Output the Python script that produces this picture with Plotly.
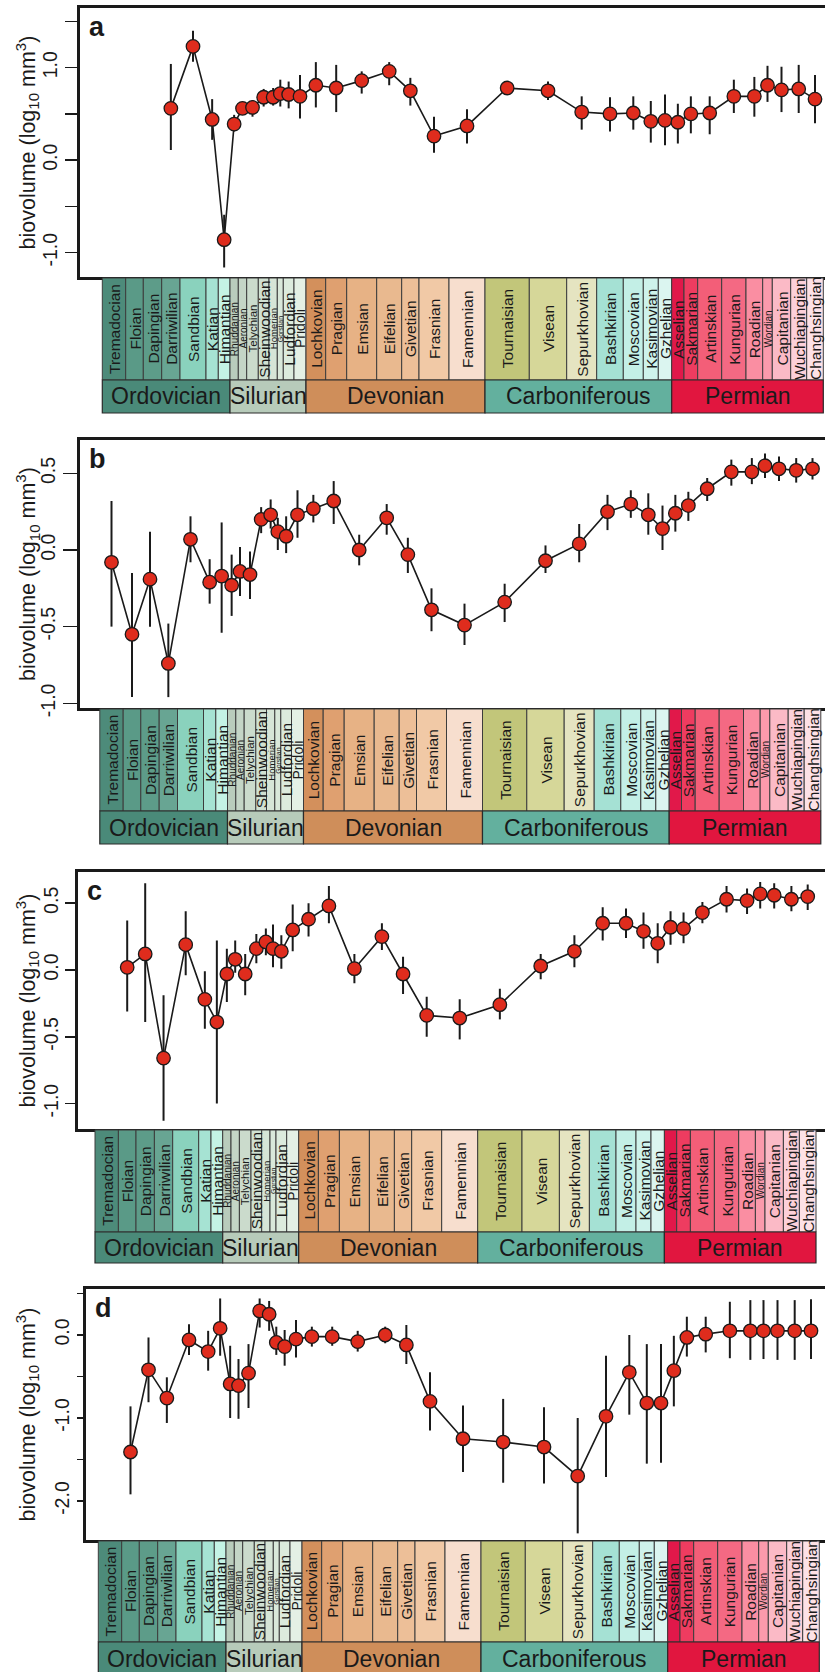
import numpy as np
import plotly.graph_objects as go

# ---------------- data ----------------
stages = ["Tremadocian", "Floian", "Dapingian", "Darriwilian", "Sandbian", "Katian", "Himantian",
          "Rhuddanian", "Aeronian", "Telychian", "Sheinwoodian", "Homerian", "Gorstian", "Ludfordian", "Pridoli",
          "Lochkovian", "Pragian", "Emsian", "Eifelian", "Givetian", "Frasnian", "Famennian",
          "Tournaisian", "Visean", "Sepurkhovian", "Bashkirian", "Moscovian", "Kasimovian", "Gzhelian",
          "Asselian", "Sakmarian", "Artinskian", "Kungurian", "Roadian", "Wordian", "Capitanian",
          "Wuchiapingian", "Changhsingian"]
# relative widths of the stage boxes in the chronostratigraphic bar
stage_widths = [23.4, 17.6, 18.4, 18.3, 26.0, 12.3, 11.7,
                8.3, 8.4, 11.6, 10.7, 8.3, 6.0, 10.7, 12.0,
                19.7, 21.0, 30.0, 25.0, 17.3, 30.0, 36.0,
                44.3, 37.4, 30.0, 26.6, 20.0, 15.0, 13.4,
                12.3, 13.7, 24.0, 24.3, 16.7, 9.6, 18.4, 16.0, 16.6]
periods = ["Ordovician", "Silurian", "Devonian", "Carboniferous", "Permian"]
period_n_stages = [7, 8, 7, 7, 9]

# panel a (first stage: Darriwilian)
a_first = "Darriwilian"
a_mean = [0.56, 1.23, 0.44, -0.86, 0.39, 0.56, 0.57, 0.68, 0.68, 0.72, 0.71, 0.69,
          0.81, 0.78, 0.86, 0.96, 0.75, 0.26, 0.37,
          0.78, 0.75, 0.52, 0.50, 0.51, 0.42, 0.43,
          0.41, 0.50, 0.51, 0.69, 0.69, 0.81, 0.76, 0.77, 0.66]
a_upper = [1.04, 1.40, 0.66, -0.59, 0.49, 0.62, 0.65, 0.77, 0.78, 0.87, 0.85, 0.92,
           1.06, 1.03, 0.96, 1.06, 0.89, 0.47, 0.55,
           0.81, 0.85, 0.69, 0.68, 0.69, 0.64, 0.71,
           0.61, 0.69, 0.69, 0.87, 0.90, 1.02, 1.01, 1.03, 0.92]
a_lower = [0.11, 1.065, 0.22, -1.16, 0.31, 0.51, 0.47, 0.58, 0.59, 0.58, 0.56, 0.45,
           0.57, 0.52, 0.72, 0.81, 0.59, 0.08, 0.18,
           0.75, 0.65, 0.33, 0.31, 0.33, 0.19, 0.16,
           0.18, 0.29, 0.28, 0.51, 0.47, 0.63, 0.52, 0.51, 0.40]

# panel b (first stage: Tremadocian)
b_first = "Tremadocian"
b_mean = [-0.08, -0.55, -0.19, -0.74, 0.07, -0.21, -0.17,
          -0.23, -0.14, -0.16, 0.20, 0.23, 0.12, 0.09, 0.23,
          0.27, 0.32, 0.00, 0.21, -0.03, -0.39, -0.49,
          -0.34, -0.07, 0.04, 0.25, 0.30, 0.23, 0.14,
          0.24, 0.29, 0.40, 0.51, 0.51, 0.55, 0.53, 0.52, 0.53]
b_upper = [0.32, -0.15, 0.12, -0.48, 0.22, -0.06, 0.18,
           -0.03, 0.02, -0.01, 0.28, 0.33, 0.21, 0.22, 0.39,
           0.36, 0.45, 0.10, 0.30, 0.08, -0.25, -0.35,
           -0.22, 0.03, 0.17, 0.36, 0.39, 0.37, 0.29,
           0.36, 0.38, 0.47, 0.59, 0.60, 0.63, 0.61, 0.60, 0.60]
b_lower = [-0.50, -0.96, -0.50, -0.96, -0.08, -0.35, -0.54,
           -0.43, -0.30, -0.32, 0.11, 0.14, 0.00, -0.02, 0.08,
           0.18, 0.17, -0.10, 0.10, -0.15, -0.53, -0.62,
           -0.47, -0.15, -0.08, 0.13, 0.21, 0.10, 0.00,
           0.12, 0.19, 0.32, 0.42, 0.43, 0.47, 0.45, 0.44, 0.46]

# panel c (first stage: Floian)
c_first = "Floian"
c_mean = [0.02, 0.12, -0.66, 0.19, -0.22, -0.39,
          -0.03, 0.08, -0.03, 0.16, 0.21, 0.16, 0.14, 0.30,
          0.38, 0.48, 0.01, 0.25, -0.03, -0.34, -0.36,
          -0.26, 0.03, 0.14, 0.35, 0.35, 0.29, 0.20,
          0.32, 0.31, 0.43, 0.53, 0.52, 0.57, 0.56, 0.53, 0.55]
c_upper = [0.37, 0.65, -0.19, 0.44, -0.01, 0.22,
           0.16, 0.22, 0.12, 0.27, 0.31, 0.34, 0.26, 0.49,
           0.50, 0.63, 0.12, 0.35, 0.10, -0.20, -0.22,
           -0.14, 0.12, 0.26, 0.47, 0.46, 0.43, 0.35,
           0.44, 0.43, 0.51, 0.63, 0.61, 0.66, 0.65, 0.63, 0.64]
c_lower = [-0.31, -0.39, -1.13, -0.04, -0.44, -1.00,
           -0.24, -0.02, -0.19, 0.05, 0.11, 0.02, 0.01, 0.14,
           0.25, 0.35, -0.10, 0.15, -0.18, -0.50, -0.52,
           -0.37, -0.07, 0.02, 0.22, 0.24, 0.16, 0.05,
           0.19, 0.20, 0.35, 0.43, 0.42, 0.46, 0.46, 0.44, 0.45]

# panel d (first stage: Floian)
d_first = "Floian"
d_mean = [-1.41, -0.42, -0.76, -0.06, -0.20, 0.08,
          -0.59, -0.61, -0.46, 0.29, 0.25, -0.09, -0.14, -0.05,
          -0.02, -0.02, -0.08, 0.00, -0.12, -0.80, -1.25,
          -1.29, -1.35, -1.70, -0.98, -0.45, -0.82, -0.82,
          -0.43, -0.03, 0.01, 0.05, 0.05, 0.05, 0.05, 0.05, 0.05]
d_upper = [-0.86, -0.03, -0.51, 0.13, 0.05, 0.44,
           -0.13, -0.29, -0.11, 0.44, 0.41, 0.10, 0.06, 0.18,
           0.10, 0.10, 0.05, 0.10, 0.12, -0.45, -0.85,
           -0.77, -0.87, -1.00, -0.25, 0.00, -0.11, -0.11,
           -0.01, 0.22, 0.22, 0.40, 0.42, 0.42, 0.42, 0.42, 0.43]
d_lower = [-1.92, -0.81, -1.06, -0.24, -0.43, -0.25,
           -1.00, -1.01, -0.88, 0.09, 0.05, -0.24, -0.37, -0.27,
           -0.14, -0.13, -0.20, -0.10, -0.35, -1.15, -1.65,
           -1.78, -1.79, -2.39, -1.71, -0.96, -1.55, -1.54,
           -0.86, -0.26, -0.21, -0.28, -0.30, -0.29, -0.30, -0.30, -0.29]

# y-axis ticks per panel (labelled major ticks, unlabelled minor ticks)
a_ticks = [1.0, 0.0, -1.0]
a_ticklabels = ["1.0", "0.0", "-1.0"]
a_minor = [1.5, 0.5, -0.5]
b_ticks = [0.5, 0.0, -0.5, -1.0]
b_ticklabels = ["0.5", "0.0", "-0.5", "-1.0"]
b_minor = []
c_ticks = [0.5, 0.0, -0.5, -1.0]
c_ticklabels = ["0.5", "0.0", "-0.5", "-1.0"]
c_minor = []
d_ticks = [0.0, -1.0, -2.0]
d_ticklabels = ["0.0", "-1.0", "-2.0"]
d_minor = [0.5, -0.5, -1.5]

# ---------------- styles ----------------
W, H = 825, 1672
stage_colors = ["#4d8b7a", "#5a9a87", "#5d9c89", "#68a593", "#8ad2bd", "#a6e3d3", "#c4f3e5",
                "#b9ccbc", "#c4d5c6", "#cbdbcc", "#d0e1d2", "#d6e5d7", "#d9e8da", "#dcebdd", "#e4f0e5",
                "#d3905c", "#dfa070", "#e7b285", "#e9b98f", "#edbf98", "#f1c9a6", "#f7dece",
                "#c2c67a", "#d6d799", "#e5e4c1", "#a5e1d4", "#c3efe6", "#cef2eb", "#dbf5f0",
                "#e1184a", "#ee3c60", "#f35e78", "#f46983", "#fa8ea2", "#fb9aac", "#fbbac6",
                "#fcd0d9", "#fde1e6"]
period_colors = ["#4a8a79", "#b7cbba", "#cf8e5a", "#63b09e", "#e1163f"]
stage_font_small = {"Rhuddanian": 10, "Aeronian": 10, "Telychian": 11.5, "Homerian": 9.5,
                    "Gorstian": 7, "Wordian": 10, "Pridoli": 14}
STAGE_FONT = 15.5
FONT = "Liberation Sans, Arial, sans-serif"
INK = "#1a1a1a"

# panel geometry in pixels: box left/top/bottom, stage bar left, stage/period rows
panels = [
    dict(letter="a", first=a_first, mean=a_mean, up=a_upper, lo=a_lower, ticks=a_ticks,
         labels=a_ticklabels, minor=a_minor,
         left=80, top=8, bottom=277, chart_left=102.3, ylim=(-1.263, 1.645), ticklen=12,
         rows=(278, 380, 413)),
    dict(letter="b", first=b_first, mean=b_mean, up=b_upper, lo=b_lower, ticks=b_ticks,
         labels=b_ticklabels, minor=b_minor,
         left=80, top=440, bottom=708, chart_left=99.8, ylim=(-1.031, 0.718), ticklen=14,
         rows=(709, 811, 844)),
    dict(letter="c", first=c_first, mean=c_mean, up=c_upper, lo=c_lower, ticks=c_ticks,
         labels=c_ticklabels, minor=c_minor,
         left=78.3, top=872, bottom=1129, chart_left=95.0, ylim=(-1.191, 0.734), ticklen=10,
         rows=(1130, 1232, 1263)),
    dict(letter="d", first=d_first, mean=d_mean, up=d_upper, lo=d_lower, ticks=d_ticks,
         labels=d_ticklabels, minor=d_minor,
         left=86, top=1289, bottom=1540, chart_left=98.3, ylim=(-2.47, 0.554), ticklen=6,
         rows=(1541, 1642, 1676)),
]

widths = np.array(stage_widths)
edges = np.concatenate([[0], np.cumsum(widths)])
centers = edges[:-1] + widths / 2
period_edges = np.concatenate([[0], np.cumsum(period_n_stages)])


def py(p):
    return 1 - p / H


fig = go.Figure()
shapes, annotations = [], []

for i, P in enumerate(panels):
    n = i + 1
    xa = "x" if n == 1 else f"x{n}"
    ya = "y" if n == 1 else f"y{n}"
    start = stages.index(P["first"])
    mean = np.array(P["mean"])
    up = np.array(P["up"])
    lo = np.array(P["lo"])
    fig.add_trace(go.Scatter(
        x=centers[start:start + len(mean)], y=mean, mode="lines+markers",
        line=dict(color=INK, width=1.6),
        marker=dict(size=13.5, color="#df2c1d", line=dict(color=INK, width=1.3)),
        error_y=dict(type="data", symmetric=False, array=up - mean, arrayminus=mean - lo,
                     width=0, thickness=2, color=INK),
        xaxis=xa, yaxis=ya, showlegend=False, hoverinfo="skip"))

    xr = [P["left"] - P["chart_left"], W - P["chart_left"]]
    fig.layout[f"xaxis{'' if n == 1 else n}"] = dict(
        domain=[P["left"] / W, 1], range=xr, anchor=ya, showline=True, mirror=True,
        linewidth=3, linecolor=INK, showgrid=False, zeroline=False, showticklabels=False,
        ticks="", automargin=False)
    yax = dict(
        domain=[py(P["bottom"]), py(P["top"])], range=list(P["ylim"]), anchor=xa,
        showline=True, mirror=True, linewidth=3, linecolor=INK, showgrid=False, zeroline=False,
        tickmode="array", tickvals=P["ticks"], ticktext=P["labels"], ticks="outside",
        ticklen=P["ticklen"], tickwidth=1.5, tickcolor=INK, tickangle=-90, automargin=False,
        tickfont=dict(family=FONT, size=19.5, color=INK))
    if P["minor"]:
        yax["minor"] = dict(tickmode="array", tickvals=P["minor"], ticks="outside",
                            ticklen=P["ticklen"], tickwidth=1.5, tickcolor=INK, showgrid=False)
    fig.layout[f"yaxis{'' if n == 1 else n}"] = yax

    # stage bar
    r0, r1, r2 = P["rows"]
    for k, name in enumerate(stages):
        shapes.append(dict(type="rect", xref=xa, yref="paper", x0=edges[k], x1=edges[k + 1],
                           y0=py(r1), y1=py(r0), fillcolor=stage_colors[k],
                           line=dict(color="#3c3c3c", width=1), layer="above"))
        annotations.append(dict(xref=xa, yref="paper", x=centers[k], y=py((r0 + r1) / 2),
                                text=name, textangle=-90, showarrow=False,
                                xanchor="center", yanchor="middle",
                                font=dict(family=FONT, size=stage_font_small.get(name, STAGE_FONT),
                                          color=INK)))
    for k, name in enumerate(periods):
        x0, x1 = edges[period_edges[k]], edges[period_edges[k + 1]]
        shapes.append(dict(type="rect", xref=xa, yref="paper", x0=x0, x1=x1,
                           y0=py(r2), y1=py(r1), fillcolor=period_colors[k],
                           line=dict(color="#2a2a2a", width=1.2), layer="above"))
        annotations.append(dict(xref=xa, yref="paper", x=(x0 + x1) / 2, y=py((r1 + r2) / 2),
                                text=name, showarrow=False, xanchor="center", yanchor="middle",
                                font=dict(family=FONT, size=23, color=INK)))

    # panel letter and y title
    annotations.append(dict(xref="paper", yref="paper", x=(P["left"] + 7) / W, y=py(P["top"] + 2),
                            text=f"<b>{P['letter']}</b>", showarrow=False, xanchor="left", yanchor="top",
                            font=dict(family=FONT, size=27, color=INK)))
    annotations.append(dict(xref="paper", yref="paper", x=27 / W, y=py((P["top"] + P["bottom"]) / 2),
                            text="biovolume (log<sub>10</sub> mm<sup>3</sup>)", textangle=-90,
                            showarrow=False, xanchor="center", yanchor="middle",
                            font=dict(family=FONT, size=21.5, color=INK)))

fig.update_layout(template="none", width=W, height=H, margin=dict(l=0, r=0, t=0, b=0, pad=0),
                  paper_bgcolor="white", plot_bgcolor="white",
                  shapes=shapes, annotations=annotations, showlegend=False)
fig.write_html("out.html", config={"displayModeBar": False, "staticPlot": True},
               post_script="document.body.style.margin='0';document.body.style.overflow='hidden';")
